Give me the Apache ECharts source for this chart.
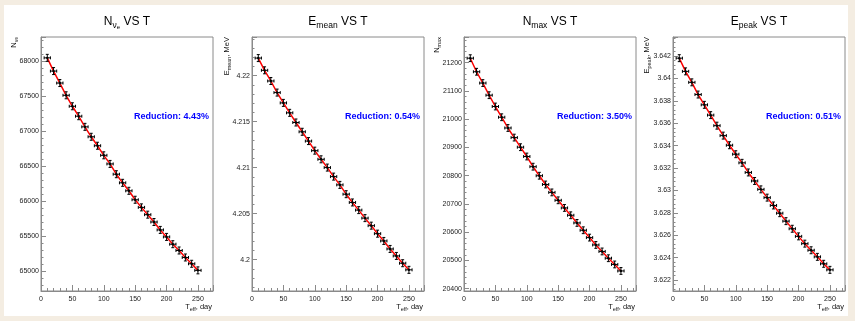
<!DOCTYPE html>
<html>
<head>
<meta charset="utf-8">
<script src="https://cdn.jsdelivr.net/npm/echarts@6/dist/echarts.min.js"></script>
<style>
	html, body { margin: 0; padding: 0; }
	#wrap { position: relative; width: 855px; height: 321px; background: #f4ede2; overflow: hidden; }
	#paper { position: absolute; left: 4px; top: 5px; width: 844px; height: 311px; background: #ffffff; }
	#chart { position: absolute; left: 0; top: 0; width: 855px; height: 321px; }
</style>
</head>
<body>
<div id="wrap">
	<div id="paper"></div>
	<div id="chart"></div>
</div>
<script>
// 时间点 (day)
var tDays = [10, 20, 30, 40, 50, 60, 70, 80, 90, 100, 110, 120, 130, 140, 150, 160, 170, 180, 190, 200, 210, 220, 230, 240, 250];

// 四个面板的数值
var nNue = [68052, 67863, 67692, 67517, 67360, 67218, 67066, 66924, 66796, 66659, 66536, 66389, 66266,
	66152, 66024, 65915, 65811, 65706, 65593, 65493, 65389, 65299, 65199, 65109, 65015];
var eMean = [4.22191, 4.22058, 4.21942, 4.21816, 4.21704, 4.21596, 4.21491, 4.21390, 4.21289, 4.21185,
	4.21091, 4.21001, 4.20903, 4.20813, 4.20712, 4.20622, 4.20539, 4.20452, 4.20370, 4.20283,
	4.20204, 4.20117, 4.20041, 4.19962, 4.19890];
var nMax = [21216, 21168, 21128, 21085, 21045, 21007, 20969, 20935, 20901, 20868, 20832, 20800, 20769,
	20741, 20713, 20686, 20660, 20633, 20607, 20581, 20555, 20532, 20508, 20486, 20463];
var ePeak = [3.64182, 3.64064, 3.63966, 3.63857, 3.63765, 3.63673, 3.63579, 3.63490, 3.63404, 3.63324,
	3.63247, 3.63161, 3.63085, 3.63010, 3.62936, 3.62866, 3.62797, 3.62726, 3.62658, 3.62590,
	3.62525, 3.62466, 3.62407, 3.62345, 3.62291];

// 误差
var tErr = 5;
var nNueErr = 50;
var eMeanErr = 0.00038;
var nMaxErr = 12;
var ePeakErr = 0.00031;

var reductions = ['Reduction: 4.43%', 'Reduction: 0.54%', 'Reduction: 3.50%', 'Reduction: 0.51%'];

var FONT = '"Liberation Sans", Arial, Helvetica, sans-serif';
var frameColor = '#8a8a8a';

var panels = [
	{ left: 41, values: nNue, err: nNueErr, min: 64720, max: 68350, split: 7,
		title: '{m|N}{s|ν}{ss|e}{m| VS T}', yTitle: '{m|N}{s|ν}{ss|e}', yTitleX: 14 },
	{ left: 252, values: eMean, err: eMeanErr, min: 4.1966, max: 4.2242, split: 6,
		title: '{m|E}{s|mean}{m| VS T}', yTitle: '{m|E}{s|mean}{m|, MeV}', yTitleX: 227 },
	{ left: 464, values: nMax, err: nMaxErr, min: 20392, max: 21291, split: 8,
		title: '{m|N}{s|max}{m| VS T}', yTitle: '{m|N}{s|max}', yTitleX: 437 },
	{ left: 673, values: ePeak, err: ePeakErr, min: 3.62102, max: 3.64371, split: 10,
		title: '{m|E}{s|peak}{m| VS T}', yTitle: '{m|E}{s|peak}{m|, MeV}', yTitleX: 647 }
];
var frameTop = 37, frameW = 172, frameH = 254;

var titleRich = {
	m: { fontSize: 12, fontFamily: FONT, fill: '#000', lineHeight: 16 },
	s: { fontSize: 8.5, fontFamily: FONT, fill: '#000', lineHeight: 8, verticalAlign: 'bottom' },
	ss: { fontSize: 6, fontFamily: FONT, fill: '#000', lineHeight: 3, verticalAlign: 'bottom' }
};
var smallRich = {
	m: { fontSize: 7.5, fontFamily: FONT, fill: '#111', lineHeight: 10 },
	s: { fontSize: 5.5, fontFamily: FONT, fill: '#111', lineHeight: 5, verticalAlign: 'bottom' },
	ss: { fontSize: 4.5, fontFamily: FONT, fill: '#111', lineHeight: 2, verticalAlign: 'bottom' }
};

function pairs(arr) {
	return tDays.map(function (t, i) { return [t, arr[i]]; });
}

function makeErrRender(err) {
	return function (params, api) {
		var x = api.value(0), y = api.value(1);
		var c = api.coord([x, y]);
		var l = api.coord([x - tErr, y]);
		var r = api.coord([x + tErr, y]);
		var t = api.coord([x, y + err]);
		var b = api.coord([x, y - err]);
		var cap = 1.5;
		var st = { stroke: '#000', lineWidth: 1 };
		return {
			type: 'group',
			children: [
				{ type: 'line', shape: { x1: l[0], y1: l[1], x2: r[0], y2: r[1] }, style: st },
				{ type: 'line', shape: { x1: t[0], y1: t[1], x2: b[0], y2: b[1] }, style: st },
				{ type: 'line', shape: { x1: l[0], y1: l[1] - cap, x2: l[0], y2: l[1] + cap }, style: st },
				{ type: 'line', shape: { x1: r[0], y1: r[1] - cap, x2: r[0], y2: r[1] + cap }, style: st },
				{ type: 'line', shape: { x1: t[0] - cap, y1: t[1], x2: t[0] + cap, y2: t[1] }, style: st },
				{ type: 'line', shape: { x1: b[0] - cap, y1: b[1], x2: b[0] + cap, y2: b[1] }, style: st },
				{ type: 'circle', shape: { cx: c[0], cy: c[1], r: 1.2 }, style: { fill: '#000' } }
			]
		};
	};
}

var grid = [], xAxis = [], yAxis = [], series = [], graphic = [];

panels.forEach(function (p, i) {
	grid.push({
		left: p.left, top: frameTop, width: frameW, height: frameH,
		show: true, borderColor: frameColor, borderWidth: 1
	});
	xAxis.push({
		type: 'value', gridIndex: i, min: 0, max: 274, interval: 50,
		axisLine: { show: true, lineStyle: { color: frameColor } },
		axisTick: { show: true, inside: true, length: 6, lineStyle: { color: frameColor } },
		minorTick: { show: true, splitNumber: 5, length: 3, lineStyle: { color: frameColor } },
		splitLine: { show: false },
		axisLabel: { fontSize: 7, fontFamily: FONT, color: '#222', margin: 5, showMaxLabel: false }
	});
	yAxis.push({
		type: 'value', gridIndex: i, min: p.min, max: p.max, splitNumber: p.split, scale: true,
		axisLine: { show: true, lineStyle: { color: frameColor } },
		axisTick: { show: true, inside: true, length: 5, lineStyle: { color: frameColor } },
		minorTick: { show: true, splitNumber: 5, length: 2.5, lineStyle: { color: frameColor } },
		splitLine: { show: false },
		axisLabel: {
			fontSize: 7, fontFamily: FONT, color: '#222', margin: 2,
			showMinLabel: false, showMaxLabel: false,
			formatter: function (v) { return String(+v.toFixed(6)); }
		}
	});
	series.push({
		type: 'line', xAxisIndex: i, yAxisIndex: i, data: pairs(p.values),
		showSymbol: false, silent: true, z: 2,
		lineStyle: { color: '#ff0000', width: 1.5 }
	});
	series.push({
		type: 'custom', xAxisIndex: i, yAxisIndex: i, data: pairs(p.values),
		renderItem: makeErrRender(p.err), silent: true, z: 3,
		encode: { x: 0, y: 1 }
	});

	// 标题
	graphic.push({
		type: 'text', x: p.left + frameW / 2, y: 22,
		style: { text: p.title, rich: titleRich, textAlign: 'center', textVerticalAlign: 'middle' }
	});
	// y轴标题
	graphic.push({
		type: 'text', x: p.yTitleX, y: frameTop, rotation: Math.PI / 2,
		style: { text: p.yTitle, rich: smallRich, textAlign: 'right', textVerticalAlign: 'middle' }
	});
	// x轴标题
	graphic.push({
		type: 'text', x: p.left + frameW - 1, y: 307,
		style: { text: '{m|T}{s|eff}{m|, day}', rich: smallRich, textAlign: 'right', textVerticalAlign: 'middle' }
	});
	// Reduction
	graphic.push({
		type: 'text', x: p.left + frameW - 4, y: 117,
		style: {
			text: reductions[i], fill: '#0000ff', textAlign: 'right', textVerticalAlign: 'middle',
			font: 'bold 9px ' + FONT
		}
	});
});

var myChart = echarts.init(document.getElementById('chart'));
myChart.setOption({
	backgroundColor: 'transparent',
	animation: false,
	grid: grid,
	xAxis: xAxis,
	yAxis: yAxis,
	series: series,
	graphic: graphic
});
</script>
</body>
</html>
